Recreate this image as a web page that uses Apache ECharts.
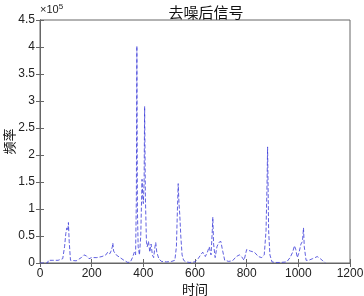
<!DOCTYPE html>
<html>
<head>
<meta charset="utf-8">
<script src="https://cdn.jsdelivr.net/npm/echarts@6/dist/echarts.min.js"></script>
<style>
  html, body { margin: 0; padding: 0; background: #fff; }
  #main { width: 364px; height: 296px; }
</style>
</head>
<body>
<div id="main"></div>
<script>
// frequency index
var freqX = [0, 30, 32, 50, 70, 88, 95, 100, 104, 108, 110, 113, 118, 122, 140, 160, 170, 180, 190, 200,
  220, 240, 255, 262, 270, 275, 280, 282, 285, 295, 310, 325, 340, 350, 358, 365, 370, 373, 375, 377,
  380, 385, 390, 395, 398, 400, 403, 405, 408, 412, 415, 420, 425, 430, 435, 440, 445, 448, 452, 460,
  470, 490, 510, 522, 528, 532, 535, 538, 541, 545, 550, 556, 565, 580, 600, 612, 622, 630, 640, 648,
  655, 662, 667, 669, 672, 678, 685, 692, 700, 706, 715, 730, 745, 760, 772, 780, 790, 800, 805, 815,
  830, 845, 858, 868, 875, 879, 881, 885, 890, 898, 910, 930, 955, 968, 978, 985, 990, 996, 1003, 1010,
  1016, 1020, 1023, 1030, 1040, 1055, 1065, 1073, 1078, 1085, 1095, 1105];
// amplitude, in units of 10^5
var freqY = [0, 0, 0.05, 0.05, 0.05, 0.08, 0.3, 0.55, 0.65, 0.6, 0.75, 0.4, 0.05, 0.03, 0.04, 0.1, 0.15, 0.13, 0.08, 0.1,
  0.1, 0.12, 0.15, 0.2, 0.17, 0.22, 0.3, 0.37, 0.22, 0.15, 0.1, 0.05, 0.01, 0.02, 0.1, 0.2, 0.15, 1.2, 4.02, 1.0,
  0.3, 0.15, 0.5, 1.55, 1.2, 1.1, 1.5, 2.9, 1.2, 0.4, 0.3, 0.4, 0.2, 0.35, 0.15, 0.1, 0.3, 0.38, 0.2, 0.08,
  0.03, 0.02, 0.03, 0.05, 0.3, 1.0, 1.47, 1.1, 0.9, 0.5, 0.15, 0.05, 0.02, 0.01, 0.02, 0.08, 0.15, 0.2, 0.12, 0.2,
  0.3, 0.15, 0.6, 0.85, 0.35, 0.1, 0.3, 0.38, 0.4, 0.25, 0.05, 0.03, 0.04, 0.12, 0.15, 0.12, 0.05, 0.25, 0.25, 0.22,
  0.2, 0.12, 0.1, 0.15, 0.6, 1.5, 2.15, 0.6, 0.15, 0.02, 0.01, 0.01, 0.02, 0.1, 0.2, 0.32, 0.25, 0.1, 0.2, 0.35,
  0.4, 0.65, 0.3, 0.05, 0.05, 0.08, 0.1, 0.12, 0.15, 0.08, 0.04, 0];

var myChart = echarts.init(document.getElementById('main'));
var data = [];
for (let i = 0; i < freqX.length; i++) {
  data.push([freqX[i], freqY[i]]);
}

var axisColor = '#666';
var labelFont = { color: '#222', fontSize: 12, fontFamily: 'Liberation Sans, Arial, sans-serif' };

var option = {
  animation: false,
  title: {
    text: '去噪后信号',
    left: 201,
    top: 0,
    textAlign: 'center',
    textStyle: { fontSize: 15, fontWeight: 'normal', color: '#111', fontFamily: 'Noto Sans CJK SC' }
  },
  graphic: [{
    type: 'text',
    left: 40,
    top: 3,
    style: {
      text: '×10{s|5}',
      fontSize: 11,
      fill: '#222',
      fontFamily: 'Liberation Sans, Arial, sans-serif',
      rich: { s: { fontSize: 8, verticalAlign: 'top', padding: [0, 0, 6, 0] } }
    }
  }],
  grid: {
    left: 40, right: 14, top: 20, bottom: 33,
    outerBoundsMode: 'none', containLabel: false,
    show: true, borderColor: axisColor, borderWidth: 1
  },
  xAxis: [{
    type: 'value',
    min: 0, max: 1200, interval: 200,
    name: '时间',
    nameLocation: 'middle',
    nameGap: 20,
    nameMoveOverlap: false,
    nameTextStyle: { fontSize: 13, color: '#111', fontFamily: 'Noto Sans CJK SC' },
    axisLine: { show: true, lineStyle: { color: axisColor } },
    axisTick: { inside: true, length: 4, lineStyle: { color: axisColor } },
    axisLabel: Object.assign({ margin: 5, formatter: function (v) { return String(v); } }, labelFont),
    splitLine: { show: false }
  }, {
    type: 'value', position: 'top',
    min: 0, max: 1200, interval: 200,
    axisLine: { show: true, lineStyle: { color: axisColor } },
    axisTick: { inside: true, length: 4, lineStyle: { color: axisColor } },
    axisLabel: { show: false },
    splitLine: { show: false }
  }],
  yAxis: [{
    type: 'value',
    min: 0, max: 4.5, interval: 0.5,
    name: '频率',
    nameLocation: 'middle',
    nameGap: 24,
    nameMoveOverlap: false,
    nameTextStyle: { fontSize: 13, color: '#111', fontFamily: 'Noto Sans CJK SC' },
    axisLine: { show: true, lineStyle: { color: axisColor } },
    axisTick: { show: true, inside: true, length: 4, lineStyle: { color: axisColor } },
    axisLabel: Object.assign({ margin: 5 }, labelFont),
    splitLine: { show: false }
  }, {
    type: 'value', position: 'right',
    min: 0, max: 4.5, interval: 0.5,
    axisLine: { show: true, lineStyle: { color: axisColor } },
    axisTick: { show: true, inside: true, length: 4, lineStyle: { color: axisColor } },
    axisLabel: { show: false },
    splitLine: { show: false }
  }],
  series: [{
    type: 'line',
    data: data,
    symbol: 'none',
    lineStyle: { color: '#3a3ad8', width: 1, type: [4, 2], opacity: 0.8 }
  }]
};

option && myChart.setOption(option);
</script>
</body>
</html>
